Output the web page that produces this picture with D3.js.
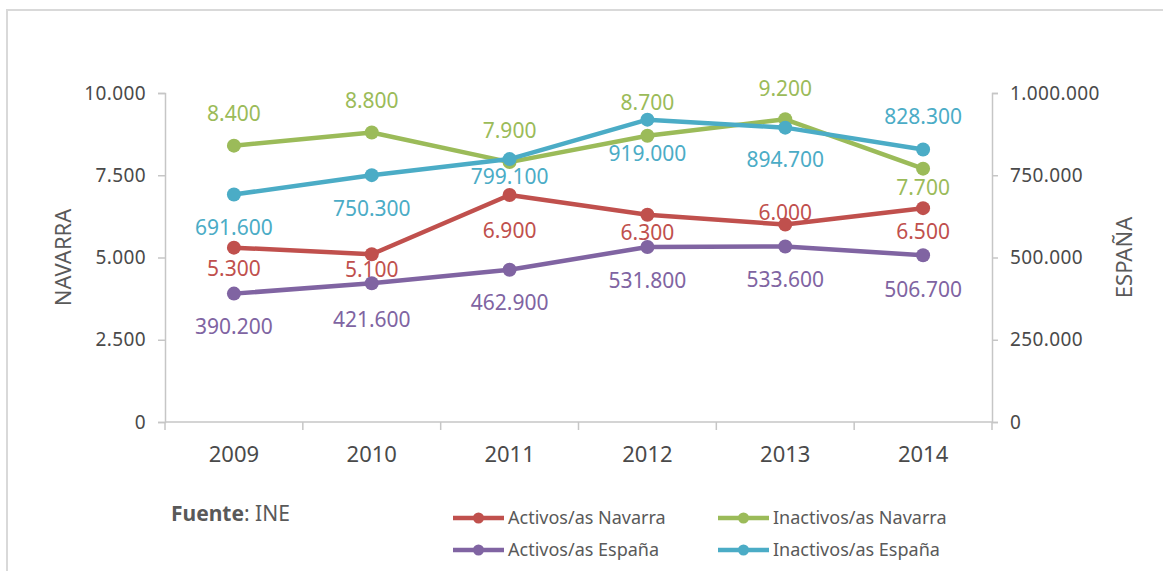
<!DOCTYPE html>
<html>
<head>
<meta charset="utf-8">
<script src="https://cdn.jsdelivr.net/npm/d3@7"></script>
<style>
  body { margin: 0; background: #fff; }
  svg { display: block; font-family: "Noto Sans", "Open Sans", sans-serif; }
</style>
</head>
<body>
<svg id="chart" width="1164" height="571"></svg>
<script>
// data
const years = ['2009', '2010', '2011', '2012', '2013', '2014']
const activosNavarra = [5300, 5100, 6900, 6300, 6000, 6500]
const inactivosNavarra = [8400, 8800, 7900, 8700, 9200, 7700]
const activosEspana = [390200, 421600, 462900, 531800, 533600, 506700]
const inactivosEspana = [691600, 750300, 799100, 919000, 894700, 828300]
const leftTicks = [0, 2500, 5000, 7500, 10000]
const rightTicks = [0, 250000, 500000, 750000, 1000000]

// label placement (vertical shift from the point, px)
const labelShift = {
  activosNavarra: [21, 15, 35, 18, -12, 23],
  inactivosNavarra: [-32, -32, -32, -33, -31, 19],
  activosEspana: [33, 36, 33, 33, 33, 34],
  inactivosEspana: [33, 33, 17, 34, 32, -33]
}

const series = [
  { key: 'activosNavarra', name: 'Activos/as Navarra', values: activosNavarra, axis: 'left', color: '#C0504D' },
  { key: 'inactivosNavarra', name: 'Inactivos/as Navarra', values: inactivosNavarra, axis: 'left', color: '#9BBB59' },
  { key: 'activosEspana', name: 'Activos/as España', values: activosEspana, axis: 'right', color: '#8064A2' },
  { key: 'inactivosEspana', name: 'Inactivos/as España', values: inactivosEspana, axis: 'right', color: '#4BACC6' }
]

const es = d3.formatLocale({ decimal: ',', thousands: '.', grouping: [3], currency: ['', ' €'] })
const fmt = es.format(',d')

const svg = d3.select('#chart')
const axisColor = '#C6C6C6'
const textColor = '#595959'
const tickColor = '#4A4A4A'

// outer frame
svg.append('path')
  .attr('d', 'M7,575 V10 H1163')
  .attr('fill', 'none')
  .attr('stroke', '#D9D9D9')
  .attr('stroke-width', 2)

const plot = { left: 165, right: 992, top: 93, bottom: 422 }

const x = d3.scaleBand().domain(years).range([plot.left, plot.right])
const yL = d3.scaleLinear().domain([0, 10000]).range([plot.bottom, plot.top])
const yR = d3.scaleLinear().domain([0, 1000000]).range([plot.bottom, plot.top])
const cx = d => x(d) + x.bandwidth() / 2

// left axis
const gL = svg.append('g')
  .attr('transform', `translate(${plot.left},0)`)
  .call(d3.axisLeft(yL).tickValues(leftTicks).tickSize(7).tickPadding(12).tickFormat(fmt))
// right axis
const gR = svg.append('g')
  .attr('transform', `translate(${plot.right},0)`)
  .call(d3.axisRight(yR).tickValues(rightTicks).tickSize(6).tickPadding(12).tickFormat(fmt))

;[gL, gR].forEach(function(g) {
  g.select('.domain').attr('stroke', axisColor).attr('stroke-width', 1.5)
  g.selectAll('.tick line').attr('stroke', axisColor).attr('stroke-width', 1.5)
  g.selectAll('.tick text')
    .attr('fill', tickColor)
    .style('font-size', '19px')
    .style('letter-spacing', '0.4px')
    .style('font-family', '"Noto Sans", sans-serif')
})

// x axis: labels at band centres, ticks at band edges
const gX = svg.append('g')
  .attr('transform', `translate(0,${plot.bottom})`)
  .call(d3.axisBottom(x).tickSize(0).tickPadding(24))
gX.select('.domain').remove()
gX.selectAll('.tick text')
  .attr('fill', tickColor)
  .style('font-size', '22px')
  .style('font-family', '"Noto Sans", sans-serif')

svg.append('line')
  .attr('x1', plot.left).attr('x2', plot.right)
  .attr('y1', plot.bottom).attr('y2', plot.bottom)
  .attr('stroke', axisColor).attr('stroke-width', 1.5)

const edges = years.map(d => x(d)).concat([x.range()[1]])
svg.append('g').selectAll('line')
  .data(edges)
  .join('line')
  .attr('x1', d => d).attr('x2', d => d)
  .attr('y1', plot.bottom).attr('y2', plot.bottom + 8)
  .attr('stroke', axisColor).attr('stroke-width', 1.5)

// axis titles
svg.append('text')
  .attr('transform', `translate(71,${(plot.top + plot.bottom) / 2}) rotate(-90)`)
  .attr('text-anchor', 'middle')
  .attr('fill', textColor)
  .style('font-size', '22px')
  .text('NAVARRA')

svg.append('text')
  .attr('transform', `translate(1132,${(plot.top + plot.bottom) / 2}) rotate(-90)`)
  .attr('text-anchor', 'middle')
  .attr('fill', textColor)
  .style('font-size', '22px')
  .text('ESPAÑA')

// lines and markers
series.forEach(function(s) {
  const y = s.axis === 'left' ? yL : yR
  const line = d3.line()
    .x((v, i) => cx(years[i]))
    .y(v => y(v))
  const g = svg.append('g')
  g.append('path')
    .datum(s.values)
    .attr('d', line)
    .attr('fill', 'none')
    .attr('stroke', s.color)
    .attr('stroke-width', 4.5)
    .attr('stroke-linejoin', 'round')
  g.selectAll('circle')
    .data(s.values)
    .join('circle')
    .attr('cx', (v, i) => cx(years[i]))
    .attr('cy', v => y(v))
    .attr('r', 7)
    .attr('fill', s.color)
})

// data labels on top
series.forEach(function(s) {
  const y = s.axis === 'left' ? yL : yR
  svg.append('g').selectAll('text')
    .data(s.values)
    .join('text')
    .attr('x', (v, i) => cx(years[i]))
    .attr('y', (v, i) => y(v) + labelShift[s.key][i])
    .attr('dy', '0.36em')
    .attr('text-anchor', 'middle')
    .attr('fill', s.color)
    .style('font-size', '21px')
    .text(v => fmt(v))
})

// source note
const src = svg.append('text')
  .attr('x', 171)
  .attr('y', 513)
  .attr('dy', '0.36em')
  .attr('fill', textColor)
  .style('font-size', '21px')
src.append('tspan').style('font-weight', 'bold').text('Fuente')
src.append('tspan').text(': INE')

// legend
const legendPos = [
  { x: 453, y: 518 }, { x: 718, y: 518 },
  { x: 453, y: 550 }, { x: 718, y: 550 }
]
series.forEach(function(s, i) {
  const p = legendPos[i]
  const g = svg.append('g').attr('transform', `translate(${p.x},${p.y})`)
  g.append('line')
    .attr('x1', 0).attr('x2', 51)
    .attr('stroke', s.color).attr('stroke-width', 4.5)
  g.append('circle').attr('cx', 25.5).attr('r', 5.5).attr('fill', s.color)
  g.append('text')
    .attr('x', 55)
    .attr('dy', '0.36em')
    .attr('fill', textColor)
    .style('font-size', '18px')
    .text(s.name)
})
</script>
</body>
</html>
